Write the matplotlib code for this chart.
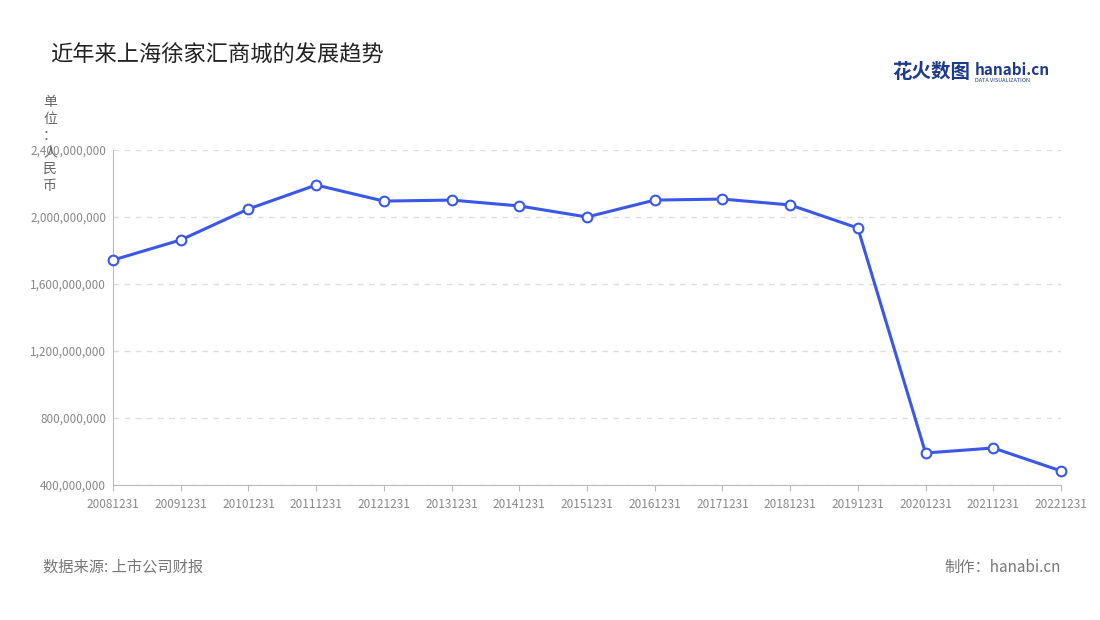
import matplotlib
matplotlib.use('Agg')
import matplotlib.pyplot as plt

plt.rcParams['font.family'] = ['Noto Sans CJK SC', 'DejaVu Sans']

years = ['20081231', '20091231', '20101231', '20111231', '20121231', '20131231', '20141231',
         '20151231', '20161231', '20171231', '20181231', '20191231', '20201231', '20211231', '20221231']
values = [1743e6, 1863e6, 2048e6, 2191e6, 2095e6, 2101e6, 2066e6, 2000e6,
          2101e6, 2107e6, 2072e6, 1934e6, 591e6, 621e6, 484e6]
yticks = [400e6, 800e6, 1200e6, 1600e6, 2000e6, 2400e6]

fig = plt.figure(figsize=(11, 6.2), dpi=100)
ax = fig.add_axes([113/1100, 1-485/620, (1061-113)/1100, (485-150)/620])

x = range(len(years))
ax.plot(x, values, color='#3a57e8', linewidth=2.2, marker='o', markersize=7,
        markerfacecolor='white', markeredgecolor='#3a57e8', markeredgewidth=1.5, zorder=3, clip_on=False)

ax.set_xlim(0, len(years) - 1)
ax.set_ylim(400e6, 2400e6)
ax.set_yticks(yticks)
ax.set_yticklabels([f'{int(v):,}' for v in yticks])
ax.set_xticks(list(x))
ax.set_xticklabels(years)
ax.tick_params(axis='both', labelsize=8.5, colors='#888888', length=0, pad=5)
ax.tick_params(axis='x', length=4, color='#bbbbbb')
ax.grid(axis='y', linestyle=(0, (4, 4)), color='#dddddd', linewidth=1)
for s in ['top', 'right']:
    ax.spines[s].set_visible(False)
ax.spines['left'].set_color('#bbbbbb')
ax.spines['bottom'].set_color('#bbbbbb')

fig.text(50/1100, 1-55/620, '近年来上海徐家汇商城的发展趋势', fontsize=16, color='#222222', va='center')
fig.text(50/1100, 1-95/620, '单\n位\n：\n人\n民\n币', fontsize=10, color='#666666',
         va='top', ha='center', linespacing=1.25)
fig.text(43/1100, 1-567/620, '数据来源: 上市公司财报', fontsize=11, color='#777777', va='center')
fig.text(1061/1100, 1-567/620, '制作：hanabi.cn', fontsize=11, color='#777777', va='center', ha='right')
fig.text(892/1100, 1-72/620, '花火数图', fontsize=14, color='#1d3a8a', fontweight='bold', va='center')
fig.text(975/1100, 1-70/620, 'hanabi.cn', fontsize=11, color='#1d3a8a', fontweight='bold', va='center')
fig.text(975/1100, 1-80/620, 'DATA VISUALIZATION', fontsize=4, color='#1d3a8a', va='center')

fig.savefig('out.png', dpi=100)
